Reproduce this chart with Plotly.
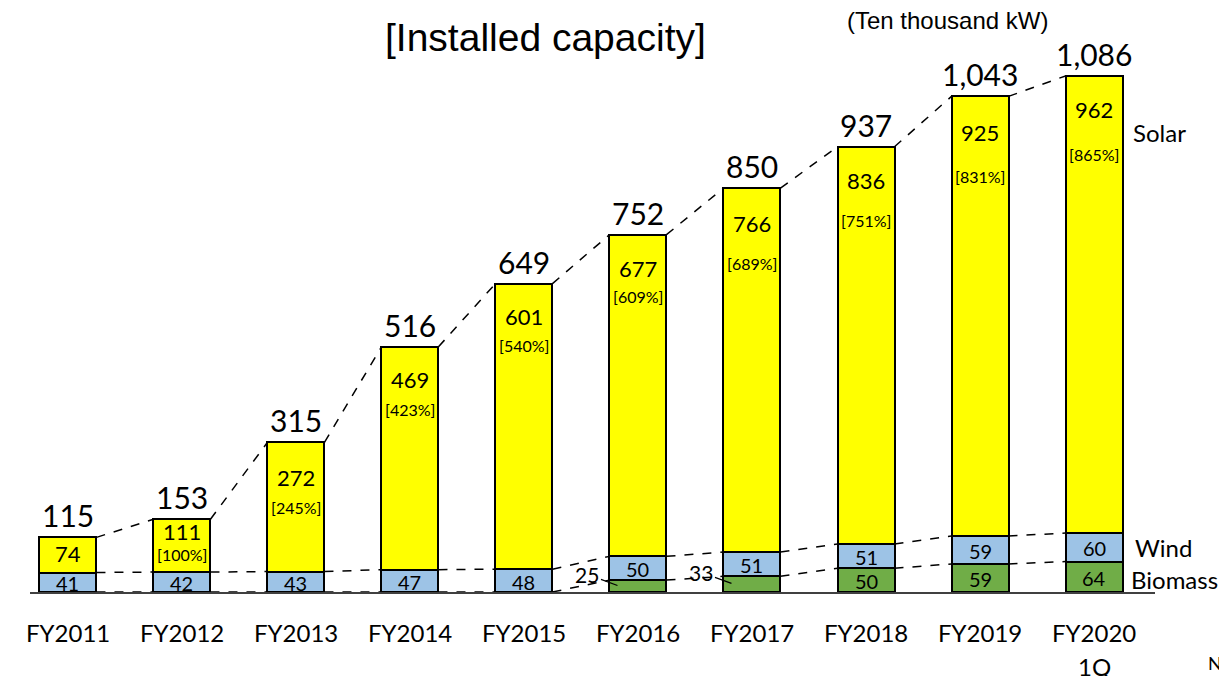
import plotly.graph_objects as go

categories = ["FY2011", "FY2012", "FY2013", "FY2014", "FY2015",
              "FY2016", "FY2017", "FY2018", "FY2019", "FY2020"]
biomass = [0, 0, 0, 0, 0, 25, 33, 50, 59, 64]
wind = [41, 42, 43, 47, 48, 50, 51, 51, 59, 60]
solar = [74, 111, 272, 469, 601, 677, 766, 836, 925, 962]
totals = [115, 153, 315, 516, 649, 752, 850, 937, 1043, 1086]
solar_pct = ["", "[100%]", "[245%]", "[423%]", "[540%]",
             "[609%]", "[689%]", "[751%]", "[831%]", "[865%]"]

# style: label pixel offsets below top of bar
solar_val_shift = [-16, -12, -35, -33, -33, -34, -35, -34, -36, -34]
pct_shift = [0, -35, -65, -63, -62, -62, -75, -74, -80, -79]

CAL = "Lato"
ARI = "Liberation Sans"
YELLOW = "#FFFF00"
BLUE = "#9DC3E6"
GREEN = "#70AD47"

x = list(range(len(categories)))
bw = 0.5

fig = go.Figure()
for name, vals, col in [("Biomass", biomass, GREEN), ("Wind", wind, BLUE), ("Solar", solar, YELLOW)]:
    fig.add_trace(go.Bar(x=x, y=vals, name=name, width=bw, marker=dict(color=col, line=dict(color="black", width=2)),
                         hoverinfo="skip"))

wind_top = [b + w for b, w in zip(biomass, wind)]


def connector(levels):
    xs, ys = [], []
    for i in range(len(levels) - 1):
        xs += [i + bw / 2, i + 1 - bw / 2, None]
        ys += [levels[i], levels[i + 1], None]
    return xs, ys


for lv in [totals, wind_top, biomass]:
    xs, ys = connector(lv)
    fig.add_trace(go.Scatter(x=xs, y=ys, mode="lines", line=dict(color="black", width=1.5, dash="dash"),
                             hoverinfo="skip", showlegend=False))

ann = []
for i in x:
    ann.append(dict(x=i, y=totals[i], text=f"{totals[i]:,}", showarrow=False, yanchor="bottom", yshift=2,
                    font=dict(family=CAL, size=30, color="black")))
    ann.append(dict(x=i, y=totals[i], text=str(solar[i]), showarrow=False, yanchor="middle",
                    yshift=solar_val_shift[i], font=dict(family=CAL, size=22, color="black")))
    if solar_pct[i]:
        ann.append(dict(x=i, y=totals[i], text=solar_pct[i], showarrow=False, yanchor="middle",
                        yshift=pct_shift[i], font=dict(family=CAL, size=16, color="black")))
    ann.append(dict(x=i, y=biomass[i] + wind[i] / 2, text=str(wind[i]), showarrow=False, yanchor="middle",
                    yshift=-1, font=dict(family=CAL, size=20, color="black")))
    if biomass[i] >= 45:
        ann.append(dict(x=i, y=biomass[i] / 2, text=str(biomass[i]), showarrow=False, yanchor="middle",
                        yshift=-1, font=dict(family=CAL, size=20, color="black")))
    elif biomass[i] > 0:
        ann.append(dict(x=i - bw / 2 + 0.07, y=biomass[i] * 0.55, text=str(biomass[i]), showarrow=True,
                        arrowhead=0, arrowwidth=1.2, arrowcolor="black", ax=-30, ay=-11,
                        font=dict(family=CAL, size=21, color="black")))
    ann.append(dict(x=i, y=0, text=categories[i], showarrow=False, yanchor="middle", yshift=-40,
                    font=dict(family=CAL, size=24, color="black")))

ann.append(dict(x=9, y=0, text="1Q", showarrow=False, yanchor="middle", yshift=-74,
                font=dict(family=CAL, size=24, color="black")))
ann.append(dict(x=9 + bw / 2, y=968, text="Solar", showarrow=False, xanchor="left", xshift=8,
                font=dict(family=CAL, size=24, color="black")))
ann.append(dict(x=9 + bw / 2, y=biomass[-1] + wind[-1] / 2, text="Wind", showarrow=False, xanchor="left",
                xshift=10, font=dict(family=CAL, size=24, color="black")))
ann.append(dict(x=9 + bw / 2, y=biomass[-1] / 2, text="Biomass", showarrow=False, xanchor="left",
                xshift=6, yshift=-3, font=dict(family=CAL, size=24, color="black")))
ann.append(dict(xref="paper", yref="paper", x=1.0, y=0, xanchor="left", yanchor="middle", xshift=51,
                yshift=-71, text="Note:", showarrow=False, font=dict(family=CAL, size=18, color="black")))
ann.append(dict(xref="paper", yref="paper", x=0.458, y=1, yanchor="middle", yshift=-29,
                text="[Installed capacity]", showarrow=False, font=dict(family=ARI, size=39, color="black")))
ann.append(dict(xref="paper", yref="paper", x=0.9067, y=1, yanchor="middle", yshift=-12,
                text="(Ten thousand kW)", showarrow=False, font=dict(family=ARI, size=24, color="black")))

fig.update_layout(
    width=1227, height=676,
    margin=dict(l=22, r=80, t=0, b=92),
    barmode="stack",
    showlegend=False,
    plot_bgcolor="white", paper_bgcolor="white",
    xaxis=dict(range=[-0.333, 9.535], showticklabels=False, showgrid=False, zeroline=False, ticks="",
               showline=True, linecolor="#404040", linewidth=1.5, fixedrange=True),
    yaxis=dict(range=[0, 1229], visible=False, showgrid=False, zeroline=False, fixedrange=True),
    annotations=ann,
)

fig.write_html("out.html")
